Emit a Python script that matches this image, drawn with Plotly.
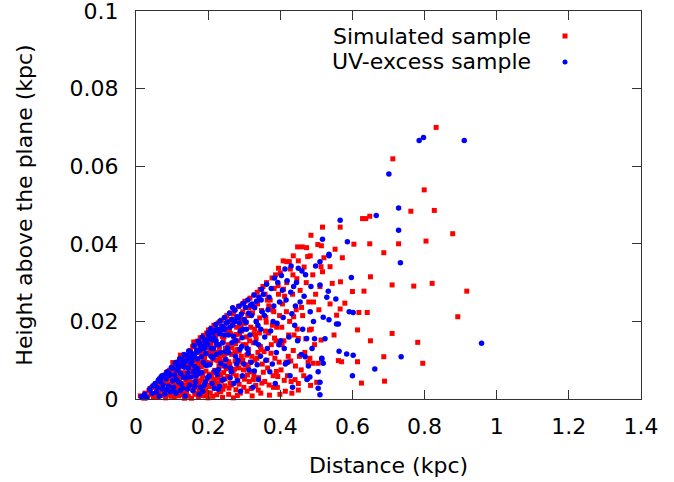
import plotly.graph_objects as go

# ---------------- data ----------------
sim_dist = [
    0.012, 0.018, 0.025, 0.031, 0.036, 0.041, 0.044, 0.048, 0.022, 0.039,
    0.052, 0.055, 0.058, 0.061, 0.064, 0.066, 0.069, 0.072, 0.074, 0.077,
    0.079, 0.082, 0.084, 0.087, 0.089, 0.091, 0.093, 0.095, 0.097, 0.099,
    0.101, 0.103, 0.105, 0.106, 0.108, 0.110, 0.112, 0.113, 0.115, 0.117,
    0.118, 0.120, 0.122, 0.124, 0.125, 0.127, 0.129, 0.130, 0.132, 0.134,
    0.135, 0.137, 0.139, 0.140, 0.142, 0.143, 0.145, 0.147, 0.148, 0.150,
    0.141, 0.119, 0.128, 0.146, 0.109,
    0.151, 0.152, 0.154, 0.155, 0.157, 0.158, 0.160, 0.161, 0.163, 0.164,
    0.166, 0.167, 0.169, 0.170, 0.172, 0.173, 0.175, 0.176, 0.178, 0.179,
    0.181, 0.182, 0.184, 0.185, 0.187, 0.188, 0.190, 0.191, 0.193, 0.194,
    0.196, 0.197, 0.199, 0.200, 0.156, 0.168, 0.177, 0.186, 0.192, 0.198,
    0.159, 0.171, 0.183, 0.189, 0.195,
    0.201, 0.203, 0.204, 0.206, 0.207, 0.209, 0.210, 0.212, 0.213, 0.215,
    0.216, 0.218, 0.219, 0.221, 0.222, 0.224, 0.225, 0.227, 0.228, 0.230,
    0.231, 0.233, 0.234, 0.236, 0.237, 0.239, 0.240, 0.242, 0.243, 0.245,
    0.246, 0.248, 0.249, 0.250, 0.205, 0.214, 0.223, 0.232, 0.241, 0.247,
    0.208, 0.217, 0.226, 0.235, 0.244,
    0.252, 0.254, 0.255, 0.257, 0.259, 0.260, 0.262, 0.264, 0.265, 0.267,
    0.269, 0.270, 0.272, 0.274, 0.275, 0.277, 0.279, 0.280, 0.282, 0.284,
    0.285, 0.287, 0.289, 0.290, 0.292, 0.294, 0.295, 0.297, 0.299, 0.300,
    0.258, 0.263, 0.271, 0.278, 0.283, 0.288, 0.293, 0.298, 0.256, 0.276,
    0.302, 0.304, 0.306, 0.308, 0.310, 0.312, 0.314, 0.316, 0.318, 0.320,
    0.322, 0.324, 0.326, 0.328, 0.330, 0.332, 0.334, 0.336, 0.338, 0.340,
    0.342, 0.344, 0.346, 0.348, 0.350, 0.305, 0.313, 0.321, 0.329, 0.337,
    0.345, 0.309, 0.317, 0.325, 0.333,
    0.352, 0.355, 0.357, 0.360, 0.362, 0.365, 0.367, 0.370, 0.372, 0.375,
    0.377, 0.380, 0.382, 0.385, 0.387, 0.390, 0.392, 0.395, 0.397, 0.400,
    0.358, 0.368, 0.378, 0.388, 0.398, 0.363, 0.383, 0.393,
    0.402, 0.406, 0.410, 0.414, 0.418, 0.422, 0.426, 0.430, 0.434, 0.438,
    0.442, 0.446, 0.404, 0.412, 0.420, 0.428, 0.436, 0.444, 0.416, 0.432,
    0.408, 0.418, 0.425, 0.436, 0.448, 0.450, 0.395,
    0.461, 0.473, 0.476, 0.483, 0.485, 0.504, 0.514, 0.517, 0.521, 0.538,
    0.513, 0.517, 0.544, 0.538, 0.549, 0.513, 0.505, 0.491, 0.475, 0.501,
    0.450, 0.450, 0.450,
    0.455, 0.462, 0.468, 0.472, 0.479, 0.486, 0.490, 0.495, 0.498, 0.458,
    0.466, 0.482, 0.507, 0.510,
    0.552, 0.572, 0.567, 0.579, 0.566, 0.556, 0.561, 0.570, 0.566, 0.600,
    0.604, 0.614, 0.614, 0.618, 0.625, 0.628, 0.637, 0.632, 0.641, 0.648,
    0.648, 0.650, 0.650, 0.687, 0.687, 0.689, 0.710, 0.710, 0.712, 0.728,
    0.762, 0.770, 0.781, 0.795, 0.799, 0.804, 0.821, 0.827, 0.832, 0.878,
    0.892, 0.917,
    # extra interior points
    0.057, 0.063, 0.071, 0.078, 0.086, 0.092, 0.098, 0.104, 0.111, 0.116,
    0.121, 0.126, 0.131, 0.136, 0.144, 0.149, 0.068, 0.081, 0.094, 0.107,
    0.123, 0.138, 0.133, 0.114, 0.102,
    0.153, 0.158, 0.162, 0.167, 0.171, 0.174, 0.178, 0.183, 0.187, 0.191,
    0.195, 0.199, 0.203, 0.207, 0.211, 0.215, 0.219, 0.223, 0.227, 0.231,
    0.235, 0.239, 0.243, 0.247, 0.250, 0.160, 0.172, 0.185, 0.196, 0.209,
    0.221, 0.233, 0.245, 0.176, 0.229,
    0.253, 0.257, 0.261, 0.266, 0.270, 0.273, 0.278, 0.281, 0.286, 0.291,
    0.296, 0.301, 0.305, 0.311, 0.315, 0.319, 0.323, 0.327, 0.331, 0.335,
    0.339, 0.343, 0.347, 0.264, 0.286, 0.307, 0.327, 0.349, 0.274, 0.296,
    0.353, 0.359, 0.364, 0.369, 0.374, 0.379, 0.384, 0.389, 0.394, 0.399,
    0.405, 0.411, 0.417, 0.423, 0.429, 0.435, 0.441, 0.447, 0.453, 0.459,
    0.465, 0.471, 0.477, 0.484, 0.492, 0.361, 0.381, 0.409, 0.437, 0.481,
]
sim_height = [
    0.0008, 0.0004, 0.0015, 0.0006, 0.0022, 0.0012, 0.0030, 0.0005, 0.0002, 0.0027,
    0.0012, 0.0035, 0.0005, 0.0041, 0.0020, 0.0052, 0.0009, 0.0031, 0.0060, 0.0016,
    0.0045, 0.0003, 0.0068, 0.0025, 0.0056, 0.0011, 0.0074, 0.0038, 0.0007, 0.0062,
    0.0021, 0.0078, 0.0045, 0.0004, 0.0089, 0.0033, 0.0061, 0.0014, 0.0095, 0.0052,
    0.0008, 0.0070, 0.0027, 0.0101, 0.0040, 0.0016, 0.0084, 0.0058, 0.0108, 0.0002,
    0.0036, 0.0066, 0.0112, 0.0019, 0.0049, 0.0091, 0.0007, 0.0118, 0.0030, 0.0075,
    0.0102, 0.0063, 0.0011, 0.0056, 0.0068,
    0.0125, 0.0043, 0.0002, 0.0088, 0.0135, 0.0024, 0.0066, 0.0110, 0.0012, 0.0140,
    0.0055, 0.0097, 0.0031, 0.0149, 0.0078, 0.0005, 0.0120, 0.0047, 0.0158, 0.0018,
    0.0083, 0.0132, 0.0009, 0.0061, 0.0164, 0.0038, 0.0105, 0.0145, 0.0022, 0.0072,
    0.0170, 0.0051, 0.0116, 0.0003, 0.0071, 0.0122, 0.0095, 0.0113, 0.0157, 0.0136,
    0.0035, 0.0015, 0.0027, 0.0091, 0.0012,
    0.0178, 0.0064, 0.0125, 0.0016, 0.0093, 0.0183, 0.0042, 0.0150, 0.0007, 0.0112,
    0.0190, 0.0074, 0.0029, 0.0162, 0.0101, 0.0011, 0.0139, 0.0054, 0.0196, 0.0085,
    0.0020, 0.0171, 0.0120, 0.0046, 0.0203, 0.0096, 0.0004, 0.0148, 0.0068, 0.0186,
    0.0034, 0.0131, 0.0209, 0.0078, 0.0035, 0.0166, 0.0120, 0.0107, 0.0025, 0.0100,
    0.0140, 0.0051, 0.0179, 0.0062, 0.0160,
    0.0215, 0.0058, 0.0140, 0.0012, 0.0178, 0.0089, 0.0222, 0.0036, 0.0115, 0.0194,
    0.0066, 0.0003, 0.0157, 0.0230, 0.0098, 0.0024, 0.0185, 0.0128, 0.0047, 0.0238,
    0.0080, 0.0168, 0.0015, 0.0207, 0.0110, 0.0058, 0.0245, 0.0140, 0.0030, 0.0195,
    0.0028, 0.0168, 0.0205, 0.0060, 0.0150, 0.0095, 0.0175, 0.0075, 0.0200, 0.0143,
    0.0252, 0.0088, 0.0160, 0.0020, 0.0215, 0.0128, 0.0045, 0.0260, 0.0185, 0.0070,
    0.0008, 0.0238, 0.0145, 0.0268, 0.0100, 0.0035, 0.0200, 0.0275, 0.0120, 0.0055,
    0.0170, 0.0282, 0.0015, 0.0228, 0.0090, 0.0140, 0.0235, 0.0110, 0.0180, 0.0245,
    0.0135, 0.0062, 0.0095, 0.0050, 0.0155,
    0.0290, 0.0122, 0.0045, 0.0210, 0.0300, 0.0080, 0.0170, 0.0010, 0.0255, 0.0140,
    0.0312, 0.0060, 0.0225, 0.0105, 0.0320, 0.0185, 0.0030, 0.0270, 0.0095, 0.0325,
    0.0270, 0.0240, 0.0190, 0.0150, 0.0215, 0.0100, 0.0285, 0.0058,
    0.0075, 0.0245, 0.0150, 0.0020, 0.0300, 0.0110, 0.0200, 0.0045, 0.0270, 0.0165,
    0.0085, 0.0310, 0.0185, 0.0265, 0.0060, 0.0335, 0.0125, 0.0230, 0.0095, 0.0015,
    0.0356, 0.0354, 0.0354, 0.0369, 0.0392, 0.0356, 0.0337,
    0.0392, 0.0390, 0.0367, 0.0369, 0.0422, 0.0398, 0.0395, 0.0443, 0.0364, 0.0341,
    0.0341, 0.0328, 0.0298, 0.0245, 0.0165, 0.0152, 0.0092, 0.0092, 0.0053, 0.0043,
    0.0040, 0.0023, 0.0156,
    0.0280, 0.0215, 0.0120, 0.0300, 0.0250, 0.0180, 0.0320, 0.0140, 0.0270, 0.0075,
    0.0340, 0.0105, 0.0230, 0.0290,
    0.0386, 0.0364, 0.0302, 0.0247, 0.0232, 0.0216, 0.0099, 0.0096, 0.0443, 0.0277,
    0.0399, 0.0178, 0.0096, 0.0223, 0.0041, 0.0465, 0.0465, 0.0278, 0.0223, 0.0471,
    0.0400, 0.0315, 0.0150, 0.0377, 0.0109, 0.0046, 0.0294, 0.0169, 0.0619, 0.0400,
    0.0484, 0.0291, 0.0146, 0.0092, 0.0539, 0.0407, 0.0298, 0.0486, 0.0700, 0.0426,
    0.0212, 0.0278,
    # extra interior points
    0.0027, 0.0009, 0.0047, 0.0019, 0.0041, 0.0053, 0.0029, 0.0057, 0.0024, 0.0083,
    0.0046, 0.0097, 0.0031, 0.0089, 0.0038, 0.0106, 0.0037, 0.0058, 0.0015, 0.0072,
    0.0113, 0.0049, 0.0068, 0.0036, 0.0094,
    0.0082, 0.0117, 0.0029, 0.0066, 0.0104, 0.0040, 0.0138, 0.0052, 0.0121, 0.0008,
    0.0094, 0.0159, 0.0032, 0.0147, 0.0119, 0.0068, 0.0174, 0.0041, 0.0099, 0.0133,
    0.0019, 0.0161, 0.0085, 0.0052, 0.0118, 0.0147, 0.0088, 0.0148, 0.0036, 0.0056,
    0.0188, 0.0090, 0.0112, 0.0026, 0.0064,
    0.0170, 0.0096, 0.0041, 0.0132, 0.0219, 0.0077, 0.0166, 0.0009, 0.0123, 0.0184,
    0.0100, 0.0051, 0.0198, 0.0082, 0.0150, 0.0027, 0.0222, 0.0061, 0.0165, 0.0105,
    0.0023, 0.0209, 0.0128, 0.0204, 0.0038, 0.0113, 0.0168, 0.0041, 0.0120, 0.0225,
    0.0069, 0.0175, 0.0255, 0.0036, 0.0118, 0.0229, 0.0157, 0.0071, 0.0292, 0.0012,
    0.0140, 0.0048, 0.0225, 0.0165, 0.0098, 0.0320, 0.0050, 0.0180, 0.0110, 0.0236,
    0.0060, 0.0155, 0.0095, 0.0035, 0.0250, 0.0198, 0.0030, 0.0283, 0.0212, 0.0178,
]

uv_dist = [
    0.015, 0.024, 0.030, 0.038, 0.045, 0.047,
    0.053, 0.057, 0.062, 0.065, 0.070, 0.073, 0.076, 0.080, 0.083, 0.086,
    0.090, 0.092, 0.095, 0.098, 0.068,
    0.102, 0.104, 0.107, 0.109, 0.111, 0.114, 0.116, 0.118, 0.121, 0.123,
    0.126, 0.128, 0.131, 0.133, 0.136, 0.138, 0.141, 0.144, 0.146, 0.149,
    0.112, 0.124, 0.134, 0.143, 0.147,
    0.151, 0.153, 0.156, 0.158, 0.161, 0.163, 0.165, 0.168, 0.170, 0.173,
    0.175, 0.177, 0.180, 0.182, 0.184, 0.187, 0.189, 0.191, 0.194, 0.196,
    0.198, 0.200, 0.155, 0.162, 0.171, 0.179, 0.186, 0.193, 0.167, 0.199,
    0.202, 0.204, 0.207, 0.209, 0.211, 0.214, 0.216, 0.219, 0.221, 0.223,
    0.226, 0.228, 0.231, 0.233, 0.235, 0.238, 0.240, 0.243, 0.245, 0.248,
    0.250, 0.206, 0.213, 0.218, 0.225, 0.230, 0.237, 0.242, 0.247, 0.222,
    0.253, 0.256, 0.259, 0.262, 0.265, 0.268, 0.271, 0.274, 0.277, 0.280,
    0.283, 0.286, 0.289, 0.292, 0.295, 0.298, 0.300, 0.257, 0.266, 0.275,
    0.284, 0.293, 0.261, 0.279, 0.290,
    0.303, 0.306, 0.310, 0.313, 0.317, 0.320, 0.324, 0.327, 0.331, 0.334,
    0.338, 0.341, 0.345, 0.348, 0.350, 0.308, 0.319, 0.329, 0.339, 0.346,
    0.353, 0.357, 0.362, 0.366, 0.371, 0.375, 0.380, 0.384, 0.389, 0.393,
    0.398, 0.360, 0.373, 0.386, 0.396,
    0.403, 0.408, 0.414, 0.419, 0.424, 0.429, 0.434, 0.440, 0.445, 0.411,
    0.427, 0.442,
    0.455, 0.462, 0.470, 0.478, 0.485, 0.492, 0.460, 0.488,
    0.797, 0.785, 0.910, 0.701, 0.728, 0.666, 0.566, 0.728, 0.517, 0.586,
    0.535, 0.535, 0.510, 0.733, 0.597, 0.510, 0.533, 0.529, 0.554, 0.591,
    0.602, 0.519, 0.535, 0.556, 0.561, 0.958, 0.524, 0.563, 0.584, 0.602,
    0.735, 0.515, 0.519, 0.662, 0.600, 0.510, 0.510, 0.498, 0.430, 0.450,
    0.413, 0.515, 0.505, 0.482, 0.505, 0.469, 0.473,
    # extra interior points
    0.059, 0.067, 0.075, 0.084, 0.093, 0.101, 0.108, 0.117, 0.125, 0.132,
    0.139, 0.145, 0.088, 0.113, 0.129,
    0.152, 0.157, 0.163, 0.169, 0.174, 0.181, 0.185, 0.190, 0.197, 0.203,
    0.208, 0.212, 0.217, 0.224, 0.229, 0.234, 0.239, 0.244, 0.249, 0.160,
    0.176, 0.192, 0.215, 0.232, 0.246,
    0.254, 0.260, 0.264, 0.270, 0.276, 0.281, 0.287, 0.294, 0.299, 0.305,
    0.311, 0.316, 0.322, 0.328, 0.333, 0.340, 0.347, 0.268, 0.288, 0.312,
    0.336, 0.297,
    0.356, 0.364, 0.369, 0.378, 0.382, 0.391, 0.401, 0.416, 0.421, 0.432,
    0.437, 0.448, 0.458, 0.466, 0.474, 0.483, 0.495, 0.406,
]
uv_height = [
    0.0006, 0.0012, 0.0003, 0.0025, 0.0015, 0.0034,
    0.0040, 0.0018, 0.0049, 0.0007, 0.0058, 0.0026, 0.0061, 0.0012, 0.0052, 0.0070,
    0.0033, 0.0066, 0.0019, 0.0081, 0.0045,
    0.0079, 0.0030, 0.0062, 0.0093, 0.0015, 0.0075, 0.0088, 0.0044, 0.0104, 0.0022,
    0.0087, 0.0101, 0.0056, 0.0115, 0.0008, 0.0098, 0.0112, 0.0067, 0.0124, 0.0036,
    0.0050, 0.0066, 0.0082, 0.0026, 0.0105,
    0.0121, 0.0057, 0.0108, 0.0021, 0.0138, 0.0084, 0.0045, 0.0126, 0.0103, 0.0149,
    0.0012, 0.0125, 0.0135, 0.0068, 0.0160, 0.0094, 0.0035, 0.0148, 0.0117, 0.0152,
    0.0055, 0.0171, 0.0098, 0.0110, 0.0078, 0.0030, 0.0135, 0.0087, 0.0060, 0.0140,
    0.0165, 0.0088, 0.0181, 0.0130, 0.0040, 0.0172, 0.0158, 0.0072, 0.0192, 0.0115,
    0.0180, 0.0025, 0.0168, 0.0201, 0.0092, 0.0188, 0.0145, 0.0050, 0.0210, 0.0122,
    0.0196, 0.0155, 0.0105, 0.0176, 0.0063, 0.0140, 0.0178, 0.0183, 0.0085, 0.0150,
    0.0198, 0.0165, 0.0221, 0.0080, 0.0205, 0.0190, 0.0040, 0.0229, 0.0150, 0.0212,
    0.0100, 0.0240, 0.0175, 0.0219, 0.0060, 0.0247, 0.0205, 0.0120, 0.0145, 0.0200,
    0.0210, 0.0135, 0.0055, 0.0090, 0.0020,
    0.0236, 0.0180, 0.0255, 0.0075, 0.0241, 0.0215, 0.0030, 0.0268, 0.0145, 0.0252,
    0.0190, 0.0262, 0.0110, 0.0283, 0.0225, 0.0130, 0.0095, 0.0235, 0.0050, 0.0180,
    0.0270, 0.0160, 0.0296, 0.0230, 0.0070, 0.0285, 0.0200, 0.0312, 0.0120, 0.0300,
    0.0250, 0.0100, 0.0175, 0.0040, 0.0140,
    0.0318, 0.0210, 0.0090, 0.0305, 0.0160, 0.0275, 0.0030, 0.0190, 0.0300, 0.0130,
    0.0060, 0.0240,
    0.0250, 0.0180, 0.0320, 0.0085, 0.0290, 0.0200, 0.0330, 0.0130,
    0.0674, 0.0666, 0.0666, 0.0580, 0.0492, 0.0473, 0.0461, 0.0435, 0.0412, 0.0405,
    0.0373, 0.0369, 0.0354, 0.0351, 0.0313, 0.0294, 0.0278, 0.0262, 0.0258, 0.0225,
    0.0223, 0.0211, 0.0204, 0.0193, 0.0193, 0.0144, 0.0155, 0.0123, 0.0116, 0.0113,
    0.0109, 0.0103, 0.0092, 0.0077, 0.0060, 0.0043, 0.0011, 0.0343, 0.0343, 0.0337,
    0.0335, 0.0105, 0.0070, 0.0057, 0.0028, 0.0109, 0.0156,
    # extra interior points
    0.0029, 0.0052, 0.0036, 0.0024, 0.0061, 0.0047, 0.0018, 0.0080, 0.0039, 0.0093,
    0.0055, 0.0080, 0.0065, 0.0094, 0.0028,
    0.0091, 0.0115, 0.0033, 0.0121, 0.0065, 0.0108, 0.0020, 0.0130, 0.0087, 0.0059,
    0.0110, 0.0152, 0.0028, 0.0141, 0.0076, 0.0120, 0.0049, 0.0165, 0.0102, 0.0071,
    0.0143, 0.0044, 0.0130, 0.0033, 0.0180,
    0.0132, 0.0185, 0.0070, 0.0162, 0.0110, 0.0048, 0.0196, 0.0158, 0.0090, 0.0198,
    0.0118, 0.0165, 0.0245, 0.0072, 0.0200, 0.0140, 0.0255, 0.0235, 0.0128, 0.0221,
    0.0088, 0.0180,
    0.0215, 0.0130, 0.0262, 0.0090, 0.0240, 0.0195, 0.0150, 0.0255, 0.0095, 0.0220,
    0.0290, 0.0150, 0.0115, 0.0265, 0.0050, 0.0225, 0.0155, 0.0280,
]

x_ticks = [0, 0.2, 0.4, 0.6, 0.8, 1.0, 1.2, 1.4]
x_tick_labels = ["0", "0.2", "0.4", "0.6", "0.8", "1", "1.2", "1.4"]
y_ticks = [0, 0.02, 0.04, 0.06, 0.08, 0.1]
y_tick_labels = ["0", "0.02", "0.04", "0.06", "0.08", "0.1"]

series_names = ["Simulated sample", "UV-excess sample"]
RED = "#ff0000"
BLUE = "#0000ff"
FONT = "DejaVu Sans"
FS = 22

fig = go.Figure()
fig.add_trace(go.Scatter(
    x=sim_dist, y=sim_height, mode="markers", name=series_names[0],
    marker=dict(symbol="square", size=5, color=RED, line=dict(width=0)),
    cliponaxis=False, showlegend=False))
fig.add_trace(go.Scatter(
    x=uv_dist, y=uv_height, mode="markers", name=series_names[1],
    marker=dict(symbol="circle", size=5.5, color=BLUE, line=dict(width=0)),
    cliponaxis=False, showlegend=False))

# legend (gnuplot style: right-aligned text, sample to the right)
L, R, T, B = 136, 641, 11, 399
W, H = R - L, B - T
def px(x): return (x - L) / W
def py(y): return (B - y) / H

leg_rows = [(36, RED, "rect"), (62, BLUE, "circle")]
for (yy, col, shp), name in zip(leg_rows, series_names):
    fig.add_annotation(x=px(533), y=py(yy), xref="paper", yref="paper",
                       text=name, showarrow=False, xanchor="right", yanchor="middle",
                       font=dict(family=FONT, size=FS, color="black"))
    fig.add_shape(type=shp, xref="paper", yref="paper",
                  x0=px(562.5), x1=px(567.5), y0=py(yy + 2.5), y1=py(yy - 2.5),
                  fillcolor=col, line=dict(width=0))

axis_common = dict(
    showgrid=False, zeroline=False, showline=True, linecolor="#333333", linewidth=1,
    mirror="allticks", ticks="inside", ticklen=9, tickcolor="#333333", tickwidth=1,
    tickfont=dict(family=FONT, size=FS, color="black"),
    ticklabeloverflow="allow", automargin=False,
)
fig.update_xaxes(range=[0, 1.4], tickvals=x_ticks, ticktext=x_tick_labels,
                 title=dict(text="Distance (kpc)", font=dict(family=FONT, size=FS, color="black"),
                            standoff=19),
                 ticklabelstandoff=8, **axis_common)
fig.update_yaxes(range=[0, 0.1], tickvals=y_ticks, ticktext=y_tick_labels,
                 title=dict(text="Height above the plane (kpc)",
                            font=dict(family=FONT, size=FS, color="black"), standoff=30),
                 ticklabelstandoff=12, **axis_common)

fig.update_layout(
    width=674, height=482,
    margin=dict(l=L, r=674 - R, t=T, b=482 - B),
    plot_bgcolor="white", paper_bgcolor="white",
    font=dict(family=FONT, size=FS, color="black"),
    showlegend=False,
)

fig.write_html("out.html")
